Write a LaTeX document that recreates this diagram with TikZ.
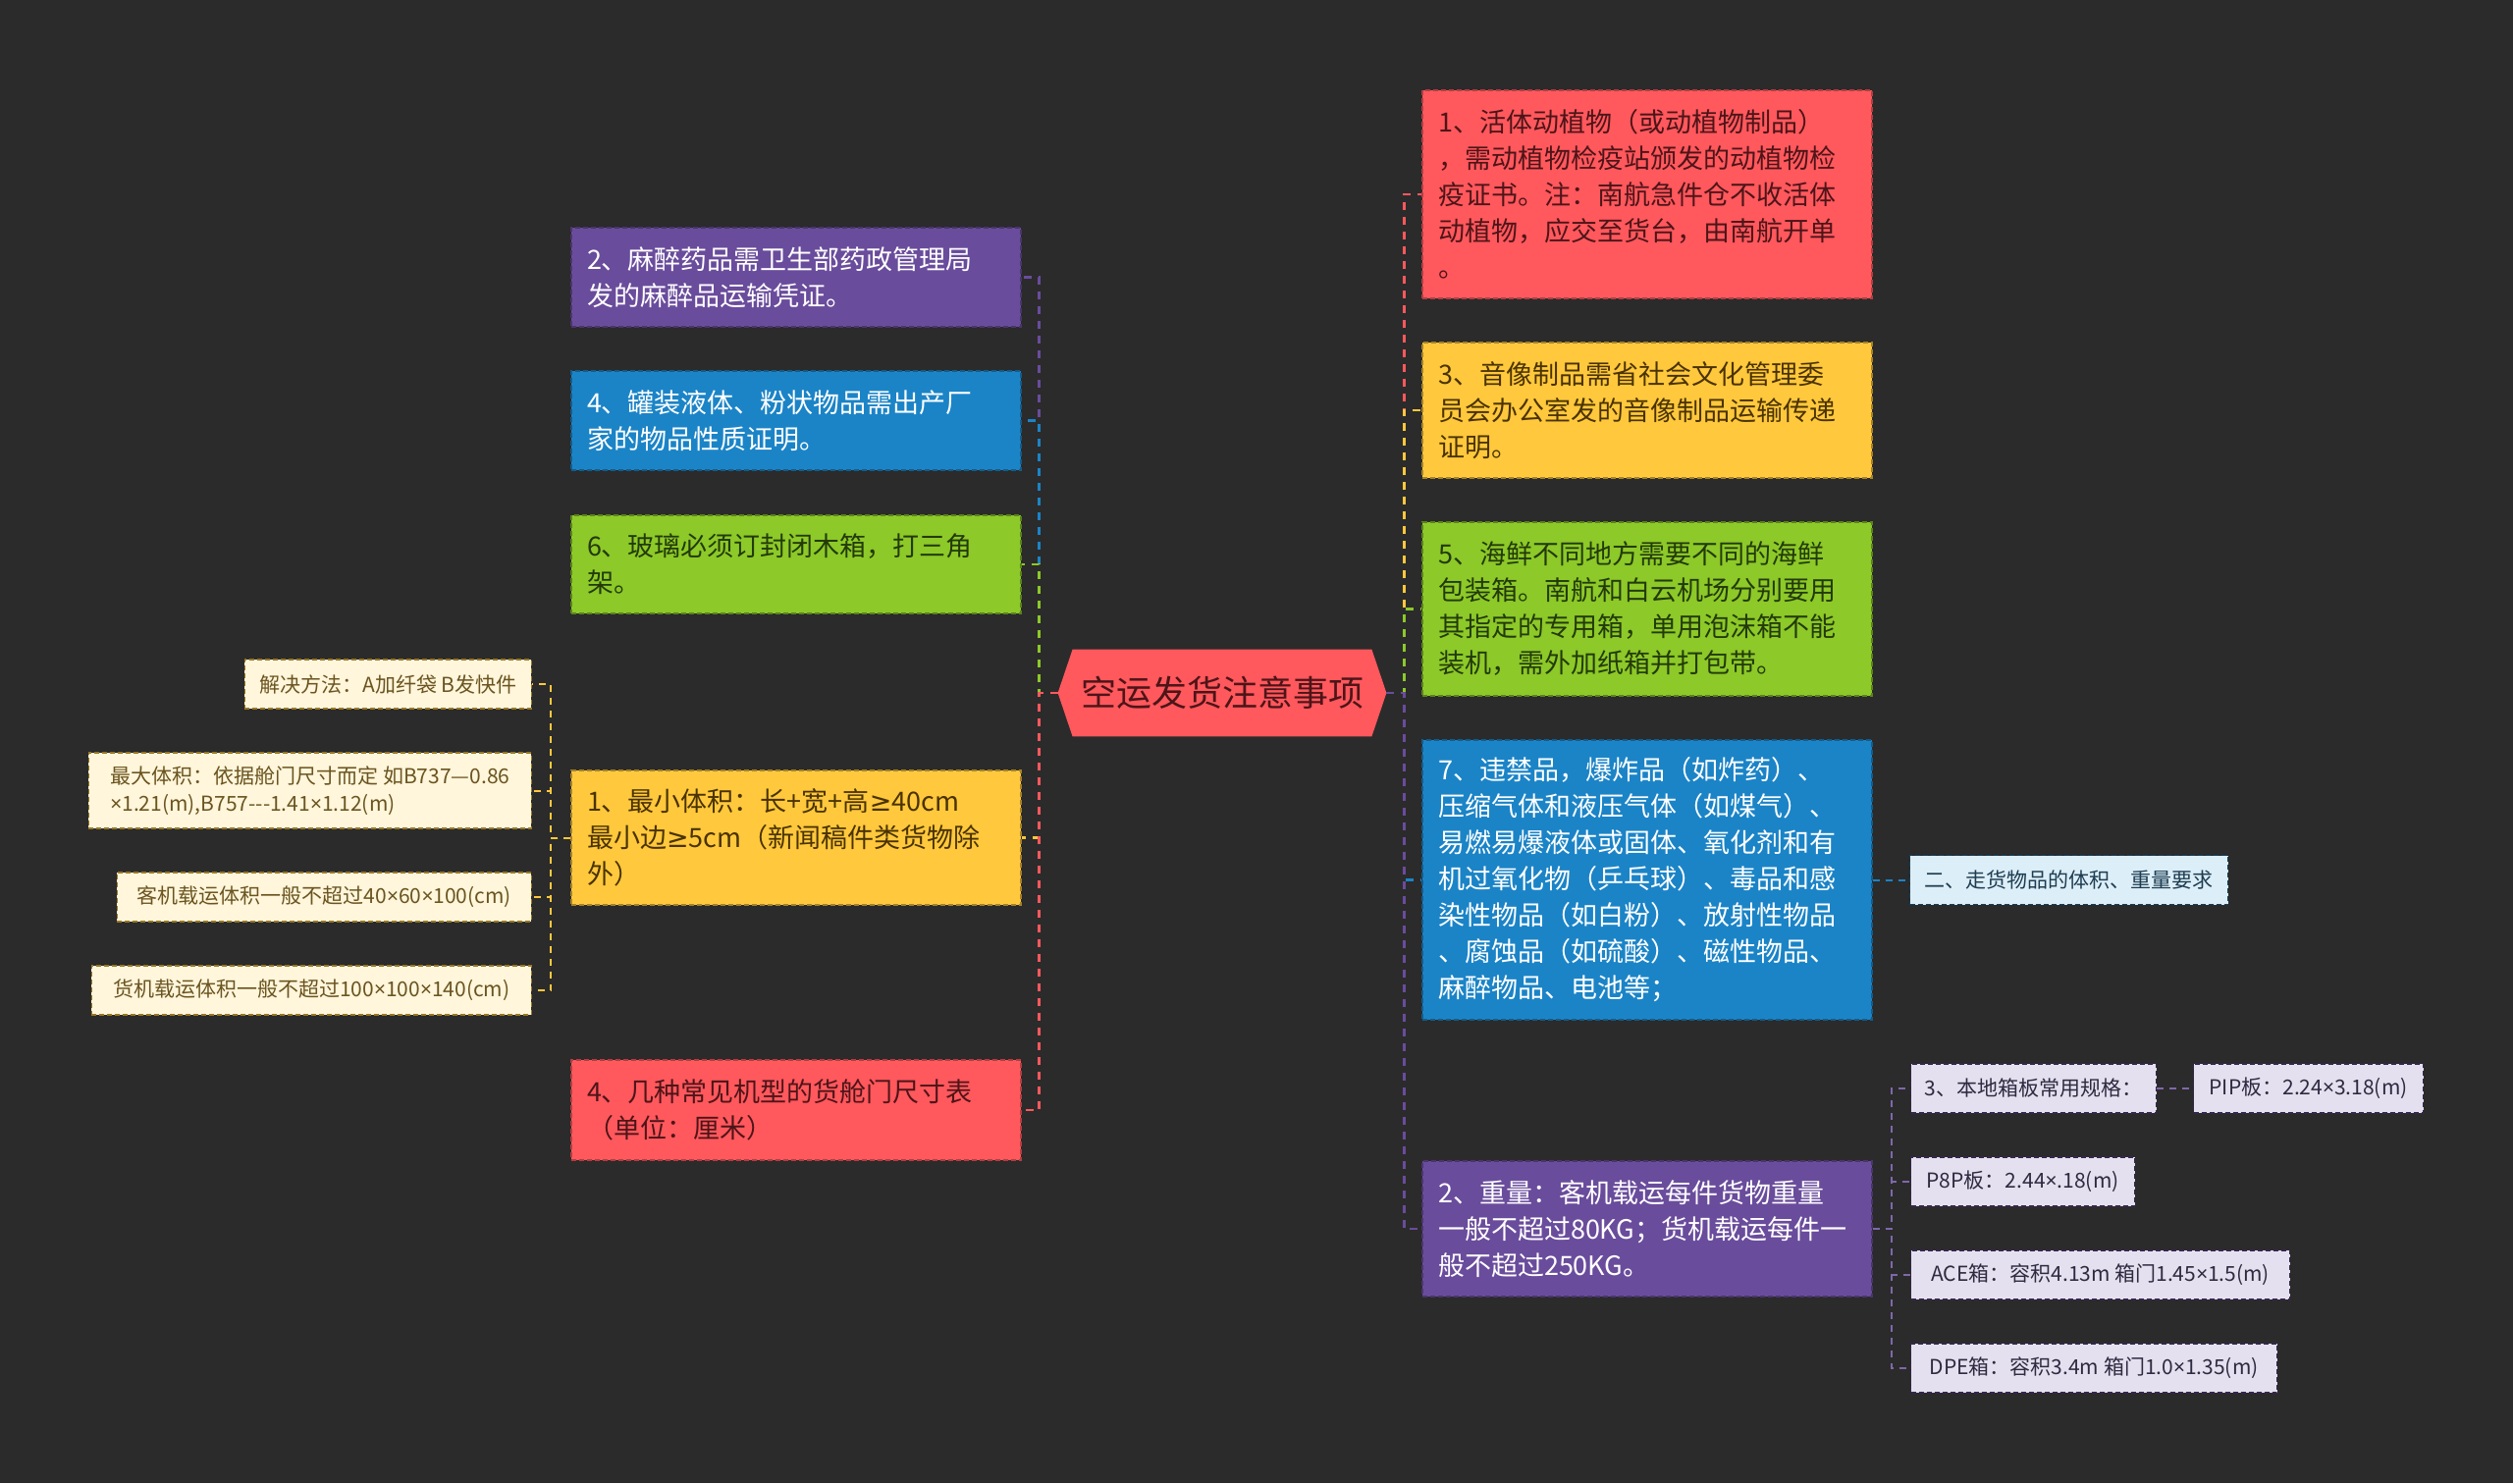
\documentclass[tikz,border=0pt]{standalone}
\usepackage{fontspec}
\setmainfont{Noto Sans CJK SC}
\newfontfamily\latinsym{Noto Sans}
\newfontfamily\mathsym{DejaVu Sans}
\newcommand\tms{{\latinsym ×}}
\newcommand\gte{{\mathsym ≥}}
\usepackage{xcolor}
\usetikzlibrary{positioning,calc,backgrounds}
\definecolor{mapBg}{HTML}{2B2B2B}
\definecolor{mapRed}{HTML}{FF585D}
\definecolor{mapPurple}{HTML}{6A4C9C}
\definecolor{mapBlue}{HTML}{1B84C7}
\definecolor{mapGreen}{HTML}{8CC929}
\definecolor{mapYellow}{HTML}{FFC83D}
\definecolor{mapCream}{HTML}{FFF6DB}
\definecolor{mapSky}{HTML}{DCEEF7}
\definecolor{mapLilac}{HTML}{E5E0EF}
\definecolor{inkRed}{HTML}{4D1518}
\definecolor{inkYellow}{HTML}{4A3300}
\definecolor{inkGreen}{HTML}{233A08}
\definecolor{inkCream}{HTML}{6B5420}
\definecolor{inkSky}{HTML}{1E3D52}
\definecolor{inkLilac}{HTML}{2E2A40}

\begin{document}
\begin{tikzpicture}[
  x=0.5pt, y=-0.5pt,
  box/.style={draw, dash pattern=on 2.5pt off 1.5pt, line width=0.7pt, inner xsep=8pt,
    align=left, text width=213pt, font=\fontsize{13.5}{18.5}\selectfont},
  redbox/.style={box, fill=mapRed, draw=mapRed!70!black, text=inkRed},
  purplebox/.style={box, fill=mapPurple, draw=mapPurple!70!black, text=white},
  bluebox/.style={box, fill=mapBlue, draw=mapBlue!70!black, text=white},
  greenbox/.style={box, fill=mapGreen, draw=mapGreen!65!black, text=inkGreen},
  yellowbox/.style={box, fill=mapYellow, draw=mapYellow!65!black, text=inkYellow},
  leaf/.style={draw, dash pattern=on 2.5pt off 1.5pt, line width=0.6pt, inner xsep=6pt,
    minimum height=25pt, align=left, font=\fontsize{10.5}{14}\selectfont},
  creamleaf/.style={leaf, fill=mapCream, draw=mapYellow!60!black, text=inkCream},
  skyleaf/.style={leaf, fill=mapSky, draw=mapBlue!50!black, text=inkSky},
  lilacleaf/.style={leaf, fill=mapLilac, draw=mapPurple!50!black, text=inkLilac},
  link/.style={dash pattern=on 4pt off 3.5pt, line width=1.4pt},
  twig/.style={dash pattern=on 3.5pt off 3pt, line width=1pt}
]
\useasboundingbox (0,0) rectangle (2560,1511);
\begin{scope}[on background layer]
  \fill[mapBg] (0,0) rectangle (2560,1511);
\end{scope}

% centre
\node[minimum width=167pt, minimum height=44pt, text=inkRed,
  font=\fontsize{18}{22}\selectfont] (root) at (1245,706) {空运发货注意事项};
\begin{scope}[on background layer]
  \fill[mapRed] (root.west) -- ($(root.north west)+(15,0)$) -- ($(root.north east)+(-15,0)$)
    -- (root.east) -- ($(root.south east)+(-15,0)$) -- ($(root.south west)+(15,0)$) -- cycle;
\end{scope}

% left branch
\node[purplebox, minimum height=50.5pt] (lpurple) at (811,282.5)
  {2、麻醉药品需卫生部药政管理局\\发的麻醉品运输凭证。};
\node[bluebox, minimum height=50.5pt] (lblue) at (811,428.5)
  {4、罐装液体、粉状物品需出产厂\\家的物品性质证明。};
\node[greenbox, minimum height=50pt] (lgreen) at (811,575)
  {6、玻璃必须订封闭木箱，打三角\\架。};
\node[yellowbox, minimum height=68.5pt] (lyellow) at (811,853.5)
  {1、最小体积：长+宽+高\gte40cm\\最小边\gte5cm（新闻稿件类货物除\\外）};
\node[redbox, minimum height=51pt] (lred) at (811,1131)
  {4、几种常见机型的货舱门尺寸表\\（单位：厘米）};

% sizes under 1
\node[creamleaf, anchor=east, minimum width=146pt] (size1) at (542,697)
  {解决方法：A加纤袋 B发快件};
\node[creamleaf, anchor=east, minimum width=225.5pt, minimum height=38.5pt] (size2) at (542,805.5)
  {最大体积：依据舱门尺寸而定 如B737—0.86\\\tms1.21(m),B757-{}-{}-1.41\tms1.12(m)};
\node[creamleaf, anchor=east, minimum width=211pt] (size3) at (542,914)
  {客机载运体积一般不超过40\tms60\tms100(cm)};
\node[creamleaf, anchor=east, minimum width=224pt] (size4) at (542,1009)
  {货机载运体积一般不超过100\tms100\tms140(cm)};

% right branch
\node[redbox, minimum height=106pt] (rred) at (1678,198)
  {1、活体动植物（或动植物制品）\\，需动植物检疫站颁发的动植物检\\疫证书。注：南航急件仓不收活体\\动植物，应交至货台，由南航开单\\。};
\node[yellowbox, minimum height=69pt] (ryellow) at (1678,418)
  {3、音像制品需省社会文化管理委\\员会办公室发的音像制品运输传递\\证明。};
\node[greenbox, minimum height=88.5pt] (rgreen) at (1678,620.5)
  {5、海鲜不同地方需要不同的海鲜\\包装箱。南航和白云机场分别要用\\其指定的专用箱，单用泡沫箱不能\\装机，需外加纸箱并打包带。};
\node[bluebox, minimum height=142.5pt] (rblue) at (1678,896.5)
  {7、违禁品，爆炸品（如炸药）、\\压缩气体和液压气体（如煤气）、\\易燃易爆液体或固体、氧化剂和有\\机过氧化物（乒乓球）、毒品和感\\染性物品（如白粉）、放射性物品\\、腐蚀品（如硫酸）、磁性物品、\\麻醉物品、电池等；};
\node[purplebox, minimum height=69pt] (rpurple) at (1678,1252)
  {2、重量：客机载运每件货物重量\\一般不超过80KG；货机载运每件一\\般不超过250KG。};

% leaves on the right
\node[skyleaf, anchor=west, minimum width=162pt] (req) at (1945,896.5)
  {二、走货物品的体积、重量要求};
\node[lilacleaf, anchor=west, minimum width=125pt] (spec) at (1946,1109)
  {3、本地箱板常用规格：};
\node[lilacleaf, anchor=west, minimum width=117pt] (pip) at (2234,1109)
  {PIP板：2.24\tms3.18(m)};
\node[lilacleaf, anchor=west, minimum width=114pt] (p8p) at (1946,1204)
  {P8P板：2.44\tms.18(m)};
\node[lilacleaf, anchor=west, minimum width=193pt] (ace) at (1946,1299)
  {ACE箱：容积4.13m 箱门1.45\tms1.5(m)};
\node[lilacleaf, anchor=west, minimum width=186.5pt] (dpe) at (1946,1394)
  {DPE箱：容积3.4m 箱门1.0\tms1.35(m)};

% connectors, left
\draw[link, mapPurple] (root.west) -- ++(-19,0) |- (lpurple.east);
\draw[link, mapBlue] (root.west) -- ++(-19,0) |- (lblue.east);
\draw[link, mapGreen] (root.west) -- ++(-19,0) |- (lgreen.east);
\draw[link, mapYellow] (root.west) -- ++(-19,0) |- (lyellow.east);
\draw[link, mapRed] (root.west) -- ++(-19,0) |- (lred.east);
\draw[twig, mapYellow] (lyellow.west) -- ++(-20,0) |- (size1.east);
\draw[twig, mapYellow] (lyellow.west) -- ++(-20,0) |- (size2.east);
\draw[twig, mapYellow] (lyellow.west) -- ++(-20,0) |- (size3.east);
\draw[twig, mapYellow] (lyellow.west) -- ++(-20,0) |- (size4.east);

% connectors, right
\draw[link, mapRed] (root.east) -- ++(18,0) |- (rred.west);
\draw[link, mapYellow] (root.east) -- ++(18,0) |- (ryellow.west);
\draw[link, mapGreen] (root.east) -- ++(18,0) |- (rgreen.west);
\draw[link, mapBlue] (root.east) -- ++(18,0) |- (rblue.west);
\draw[link, mapPurple] (root.east) -- ++(18,0) |- (rpurple.west);
\draw[twig, mapBlue] (rblue.east) -- (req.west);
\draw[twig, mapPurple!85!white] (rpurple.east) -- ++(19,0) |- (spec.west);
\draw[twig, mapPurple!85!white] (rpurple.east) -- ++(19,0) |- (p8p.west);
\draw[twig, mapPurple!85!white] (rpurple.east) -- ++(19,0) |- (ace.west);
\draw[twig, mapPurple!85!white] (rpurple.east) -- ++(19,0) |- (dpe.west);
\draw[twig, mapPurple!85!white] (spec.east) -- (pip.west);
\end{tikzpicture}
\end{document}
